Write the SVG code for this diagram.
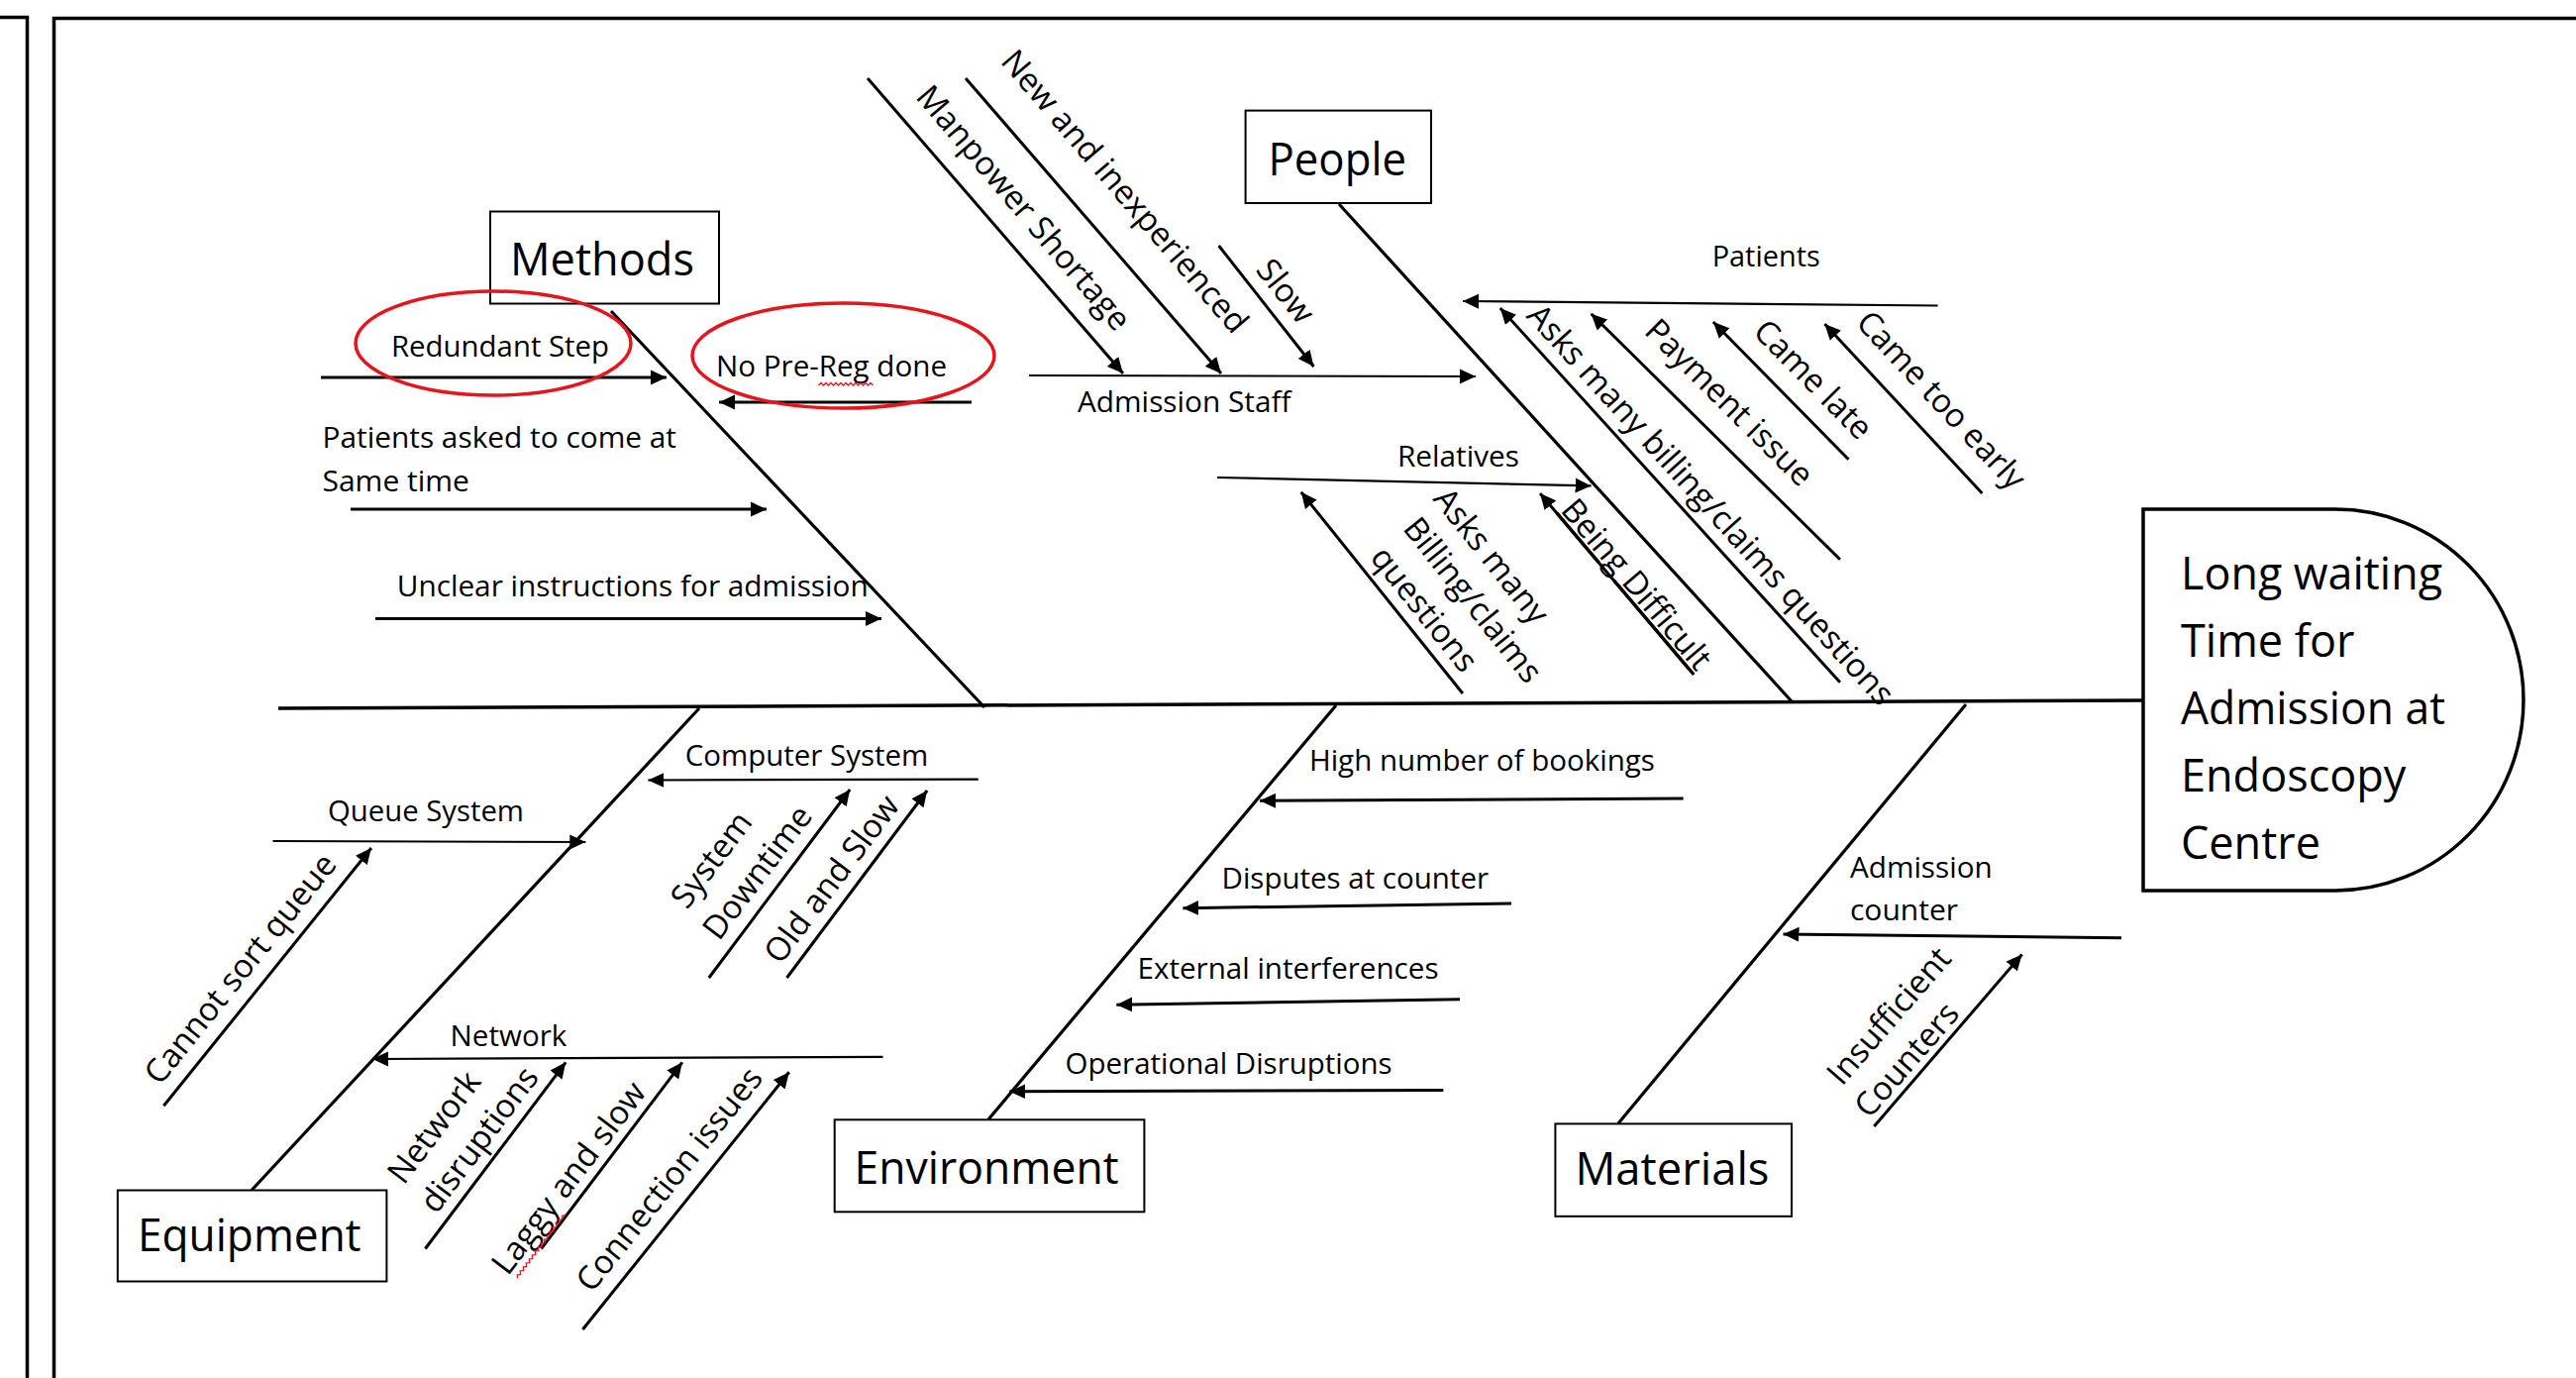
<svg xmlns="http://www.w3.org/2000/svg" width="2601" height="1391" viewBox="0 0 2601 1391">
<style>
  .frame{fill:none;stroke:#000;stroke-width:3.5}
  .bone{fill:none;stroke:#000;stroke-width:3.2}
  .arr{fill:none;stroke:#000;stroke-width:3;marker-end:url(#ah)}
  .sub{fill:none;stroke:#000;stroke-width:2.2}
  .suba{fill:none;stroke:#000;stroke-width:2.2;marker-end:url(#ah)}
  .box{fill:#fff;stroke:#000;stroke-width:2}
  .ring{fill:none;stroke:#e8141c;stroke-width:3.5}
  .wavy{fill:none;stroke:#e8141c;stroke-width:1.3}
  text{font-family:"Open Sans","Noto Sans","Liberation Sans",sans-serif;fill:#000}
  .lbl{font-size:30px}
  .rl{font-size:33px}
  .cat{font-size:46px}
  .eff{font-size:45px}
</style>
<defs>
  <marker id="ah" markerUnits="userSpaceOnUse" markerWidth="17" markerHeight="16" refX="16" refY="8" orient="auto">
    <path d="M0,0.5 L16,8 L0,15.5 z" fill="#000"/>
  </marker>
</defs>

<!-- page frames -->
<path class="frame" d="M0,17.5 H27.5 V1391"/>
<path class="frame" d="M54.5,1391 V18.5 H2601"/>

<!-- spine and category bones -->
<g id="connectors">
  <line class="frame" x1="281" y1="715" x2="2164" y2="707"/>
  <line class="bone" x1="617" y1="314" x2="994" y2="714"/>
  <line class="bone" x1="1352" y1="206" x2="1809" y2="708"/>
  <line class="bone" x1="706" y1="715" x2="254" y2="1201.5"/>
  <line class="bone" x1="1349" y1="712" x2="998" y2="1130"/>
  <line class="bone" x1="1985" y1="711" x2="1634" y2="1134"/>

  <!-- Methods causes -->
  <line class="arr" x1="324" y1="381" x2="673" y2="381"/>
  <line class="arr" x1="981" y1="406" x2="726" y2="406"/>
  <line class="arr" x1="354" y1="514" x2="774" y2="514"/>
  <line class="arr" x1="379" y1="624.5" x2="890" y2="624.5"/>

  <!-- People causes -->
  <line class="suba" x1="1039" y1="379" x2="1490" y2="380"/>
  <line class="arr" x1="876" y1="79" x2="1134" y2="377"/>
  <line class="arr" x1="975" y1="79" x2="1233" y2="377"/>
  <line class="arr" x1="1230.6" y1="248" x2="1326.5" y2="370"/>
  <line class="suba" x1="1956.6" y1="308.5" x2="1477" y2="304"/>
  <line class="arr" x1="1857.9" y1="688.7" x2="1514.8" y2="311"/>
  <line class="arr" x1="1857.9" y1="564.7" x2="1606.6" y2="316.8"/>
  <line class="arr" x1="1866.5" y1="463.7" x2="1729.9" y2="325"/>
  <line class="arr" x1="2001.4" y1="498" x2="1842.4" y2="327"/>
  <line class="suba" x1="1229" y1="482" x2="1606.6" y2="490.4"/>
  <line class="arr" x1="1476.9" y1="700" x2="1313.8" y2="496.8"/>
  <line class="arr" x1="1705" y1="675" x2="1555" y2="498"/>

  <!-- Equipment causes -->
  <line class="suba" x1="987.8" y1="786.6" x2="654.4" y2="787.5"/>
  <line class="suba" x1="275.5" y1="849" x2="591.3" y2="850"/>
  <line class="arr" x1="165.3" y1="1116.3" x2="374.9" y2="856"/>
  <line class="arr" x1="715.8" y1="987" x2="858.2" y2="797"/>
  <line class="arr" x1="794.5" y1="987" x2="936.1" y2="798"/>
  <line class="suba" x1="891.5" y1="1066.8" x2="376" y2="1069"/>
  <line class="arr" x1="429.4" y1="1260.5" x2="571.2" y2="1072.3"/>
  <line class="arr" x1="546.5" y1="1260.5" x2="688.9" y2="1072.3"/>
  <line class="arr" x1="588.4" y1="1342" x2="796.8" y2="1082.3"/>

  <!-- Environment causes -->
  <line class="arr" x1="1699.6" y1="806" x2="1272" y2="808.3"/>
  <line class="arr" x1="1526" y1="912" x2="1194.4" y2="916.7"/>
  <line class="arr" x1="1474" y1="1008.8" x2="1127.3" y2="1014.2"/>
  <line class="arr" x1="1457.3" y1="1100.4" x2="1019.3" y2="1101.8"/>

  <!-- Materials causes -->
  <line class="arr" x1="2142" y1="946.7" x2="1800.5" y2="943"/>
  <line class="arr" x1="1892.3" y1="1137" x2="2041.6" y2="963.4"/>
</g>

<!-- category nodes -->
<g id="methods">
  <rect class="box" x="495" y="213.5" width="231" height="93"/>
  <text class="cat" x="515" y="278" textLength="186" lengthAdjust="spacingAndGlyphs">Methods</text>
</g>
<g id="people">
  <rect class="box" x="1257.6" y="111.6" width="187.4" height="93.4"/>
  <text class="cat" x="1280.5" y="177" textLength="139.5" lengthAdjust="spacingAndGlyphs">People</text>
</g>
<g id="equipment">
  <rect class="box" x="118.8" y="1201.5" width="271.6" height="92"/>
  <text class="cat" x="139" y="1262.8" textLength="225.5" lengthAdjust="spacingAndGlyphs">Equipment</text>
</g>
<g id="environment">
  <rect class="box" x="842.7" y="1130.3" width="312.7" height="93"/>
  <text class="cat" x="862.6" y="1194.7" textLength="267" lengthAdjust="spacingAndGlyphs">Environment</text>
</g>
<g id="materials">
  <rect class="box" x="1570.4" y="1134.4" width="238.6" height="93.4"/>
  <text class="cat" x="1590.5" y="1196" textLength="196" lengthAdjust="spacingAndGlyphs">Materials</text>
</g>

<!-- effect head -->
<g id="effect">
  <path class="frame" fill="#fff" d="M2164,514 H2358 A190,192.5 0 0 1 2358,899 H2164 Z"/>
  <text class="eff" x="2202" y="594.6" textLength="264" lengthAdjust="spacingAndGlyphs">Long waiting</text>
  <text class="eff" x="2202" y="662.7">Time for</text>
  <text class="eff" x="2202" y="730.8" textLength="267" lengthAdjust="spacingAndGlyphs">Admission at</text>
  <text class="eff" x="2202" y="798.9">Endoscopy</text>
  <text class="eff" x="2202" y="867">Centre</text>
</g>

<!-- Methods cause labels -->
<g id="methods-causes">
  <text class="lbl" x="395" y="360.4" textLength="220" lengthAdjust="spacingAndGlyphs">Redundant Step</text>
  <ellipse class="ring" cx="498" cy="346.5" rx="139" ry="52.5"/>
  <text class="lbl" x="723" y="380" textLength="233" lengthAdjust="spacingAndGlyphs">No Pre-Reg done</text>
  <path class="wavy" d="M826.5,389 l2.5,-2.5 l2.5,2.5 l2.5,-2.5 l2.5,2.5 l2.5,-2.5 l2.5,2.5 l2.5,-2.5 l2.5,2.5 l2.5,-2.5 l2.5,2.5 l2.5,-2.5 l2.5,2.5 l2.5,-2.5 l2.5,2.5 l2.5,-2.5 l2.5,2.5 l2.5,-2.5 l2.5,2.5 l2.5,-2.5 l2.5,2.5 l2.5,-2.5 l2.5,2.5"/>
  <ellipse class="ring" cx="851.5" cy="359" rx="152.5" ry="53"/>
  <text class="lbl" x="325.5" y="452" textLength="357.5" lengthAdjust="spacingAndGlyphs">Patients asked to come at</text>
  <text class="lbl" x="325.5" y="496">Same time</text>
  <text class="lbl" x="400.7" y="601.5" textLength="476" lengthAdjust="spacingAndGlyphs">Unclear instructions for admission</text>
</g>

<!-- People cause labels -->
<g id="people-causes">
  <text class="lbl" x="1088" y="415.5" textLength="215.5" lengthAdjust="spacingAndGlyphs">Admission Staff</text>
  <text class="lbl" x="1728.7" y="268.6" textLength="109" lengthAdjust="spacingAndGlyphs">Patients</text>
  <text class="lbl" x="1411" y="470.6" textLength="123" lengthAdjust="spacingAndGlyphs">Relatives</text>
  <text class="rl" text-anchor="middle" transform="translate(1025.1,217.1) rotate(49.5)">Manpower Shortage</text>
  <text class="rl" text-anchor="middle" transform="translate(1127.1,200.6) rotate(49.5)">New and inexperienced</text>
  <text class="rl" text-anchor="middle" transform="translate(1289.3,300.9) rotate(51.5)">Slow</text>
  <text class="rl" text-anchor="middle" transform="translate(1718.9,516.9) rotate(47.8)">Asks many billing/claims questions</text>
  <text class="rl" text-anchor="middle" transform="translate(1738.2,414.3) rotate(44.8)">Payment issue</text>
  <text class="rl" text-anchor="middle" transform="translate(1822.8,391) rotate(45.4)">Came late</text>
  <text class="rl" text-anchor="middle" transform="translate(1951.8,411.5) rotate(47)">Came too early</text>
  <text class="rl" text-anchor="middle" transform="translate(1497.1,568.2) rotate(51.5)">Asks many</text>
  <text class="rl" text-anchor="middle" transform="translate(1478.3,612.7) rotate(51.5)">Billing/claims</text>
  <text class="rl" text-anchor="middle" transform="translate(1429.3,622) rotate(51.5)">questions</text>
  <text class="rl" text-anchor="middle" text-decoration="underline" transform="translate(1643.9,597.1) rotate(49.7)">Being Difficult</text>
</g>

<!-- Equipment cause labels -->
<g id="equipment-causes">
  <text class="lbl" x="691.7" y="773" textLength="245.6" lengthAdjust="spacingAndGlyphs">Computer System</text>
  <text class="lbl" x="331" y="828.7" textLength="198" lengthAdjust="spacingAndGlyphs">Queue System</text>
  <text class="lbl" x="454.6" y="1056.4" textLength="117.7" lengthAdjust="spacingAndGlyphs">Network</text>
  <text class="rl" text-anchor="middle" transform="translate(251.5,984.9) rotate(-51.2)">Cannot sort queue</text>
  <text class="rl" text-anchor="middle" transform="translate(727.3,874.6) rotate(-53)">System</text>
  <text class="rl" text-anchor="middle" transform="translate(773.8,887.3) rotate(-53)">Downtime</text>
  <text class="rl" text-anchor="middle" transform="translate(848.8,894.1) rotate(-53)">Old and Slow</text>
  <text class="rl" text-anchor="middle" transform="translate(447.3,1144.6) rotate(-53)">Network</text>
  <text class="rl" text-anchor="middle" transform="translate(492.8,1157.1) rotate(-53)">disruptions</text>
  <g transform="translate(583.2,1195.8) rotate(-52.8)">
    <text class="rl" text-anchor="middle">Laggy and slow</text>
    <path class="wavy" d="M-112,9 l2.5,-2.5 l2.5,2.5 l2.5,-2.5 l2.5,2.5 l2.5,-2.5 l2.5,2.5 l2.5,-2.5 l2.5,2.5 l2.5,-2.5 l2.5,2.5 l2.5,-2.5 l2.5,2.5 l2.5,-2.5 l2.5,2.5 l2.5,-2.5 l2.5,2.5 l2.5,-2.5 l2.5,2.5 l2.5,-2.5 l2.5,2.5 l2.5,-2.5 l2.5,2.5 l2.5,-2.5 l2.5,2.5 l2.5,-2.5 l2.5,2.5 l2.5,-2.5 l2.5,2.5 l2.5,-2.5 l2.5,2.5 l2.5,-2.5 l2.5,2.5"/>
  </g>
  <text class="rl" text-anchor="middle" transform="translate(684.6,1197.3) rotate(-51.3)">Connection issues</text>
</g>

<!-- Environment cause labels -->
<g id="environment-causes">
  <text class="lbl" x="1321.9" y="777.5" textLength="349" lengthAdjust="spacingAndGlyphs">High number of bookings</text>
  <text class="lbl" x="1233.5" y="896.8" textLength="269.5" lengthAdjust="spacingAndGlyphs">Disputes at counter</text>
  <text class="lbl" x="1148.5" y="988.4" textLength="304" lengthAdjust="spacingAndGlyphs">External interferences</text>
  <text class="lbl" x="1075.6" y="1083.6" textLength="330" lengthAdjust="spacingAndGlyphs">Operational Disruptions</text>
</g>

<!-- Materials cause labels -->
<g id="materials-causes">
  <text class="lbl" x="1868" y="886" textLength="143.7" lengthAdjust="spacingAndGlyphs">Admission</text>
  <text class="lbl" x="1868" y="929.4">counter</text>
  <text class="rl" text-anchor="middle" transform="translate(1915.8,1032.9) rotate(-49)">Insufficient</text>
  <text class="rl" text-anchor="middle" transform="translate(1933.7,1077.2) rotate(-49)">Counters</text>
</g>
</svg>
